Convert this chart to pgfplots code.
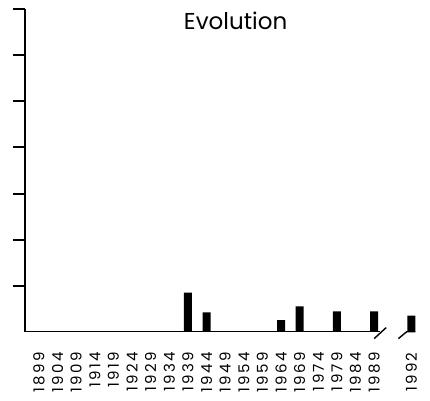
\documentclass[border=0pt]{standalone}
\usepackage{fontspec}
\setmainfont{Poppins}
\newfontfamily\tickfont[LetterSpace=15]{Poppins}
\usepackage{pgfplots}
\pgfplotsset{compat=1.18}
\begin{document}
\begin{tikzpicture}
\begin{axis}[
  scale only axis, width=405pt, height=322.4pt,
  xmin=-0.75, xmax=21, ymin=0, ymax=7,
  axis x line*=bottom, axis y line*=left,
  x axis line style={draw=none},
  y axis line style={line width=1.4pt,-},
  ytick={0,...,7}, yticklabels={},
  tick style={draw=none},
  tick align=outside, major tick length=12.5pt,
  xtick={0,...,18,20},
  xticklabels={1899,1904,1909,1914,1919,1924,1929,1934,1939,1944,1949,1954,1959,1964,1969,1974,1979,1984,1989,1992},
  xticklabel style={rotate=90, anchor=east, font=\tickfont\fontsize{15}{15}\selectfont, inner sep=0pt, inner xsep=8pt},
  /pgf/number format/assume math mode=true,
  clip=false,
]
\addplot[ybar, bar width=0.43, fill=black, draw=none] coordinates {
  (8,0.85) (9,0.42) (13,0.25) (14,0.55) (16,0.44) (18,0.44) (20,0.35)};
\addplot[line width=1.4pt] coordinates {(-0.75,0) (18.3,0)};
\addplot[line width=1.4pt] coordinates {(18.0,-0.15) (18.65,0.09)};
\addplot[line width=1.4pt] coordinates {(19.3,-0.15) (19.75,0) (20.22,0)};
\draw[line width=2pt] (axis cs:-0.75,1) -- (axis cs:-1.42,1);
\draw[line width=2pt] (axis cs:-0.75,2) -- (axis cs:-1.42,2);
\draw[line width=2pt] (axis cs:-0.75,3) -- (axis cs:-1.42,3);
\draw[line width=2pt] (axis cs:-0.75,4) -- (axis cs:-1.42,4);
\draw[line width=2pt] (axis cs:-0.75,5) -- (axis cs:-1.42,5);
\draw[line width=2pt] (axis cs:-0.75,6) -- (axis cs:-1.42,6);
\draw[line width=2pt] (axis cs:-0.75,7) -- (axis cs:-1.42,7);
\node[font=\fontsize{23}{23}\selectfont, anchor=base] at (axis cs:10.56,6.57) {Evolution};
\end{axis}
\pgfresetboundingbox
\path (current axis.south west) ++(-25pt,-68.3pt) rectangle ++(430pt,400pt);
\end{tikzpicture}
\end{document}
